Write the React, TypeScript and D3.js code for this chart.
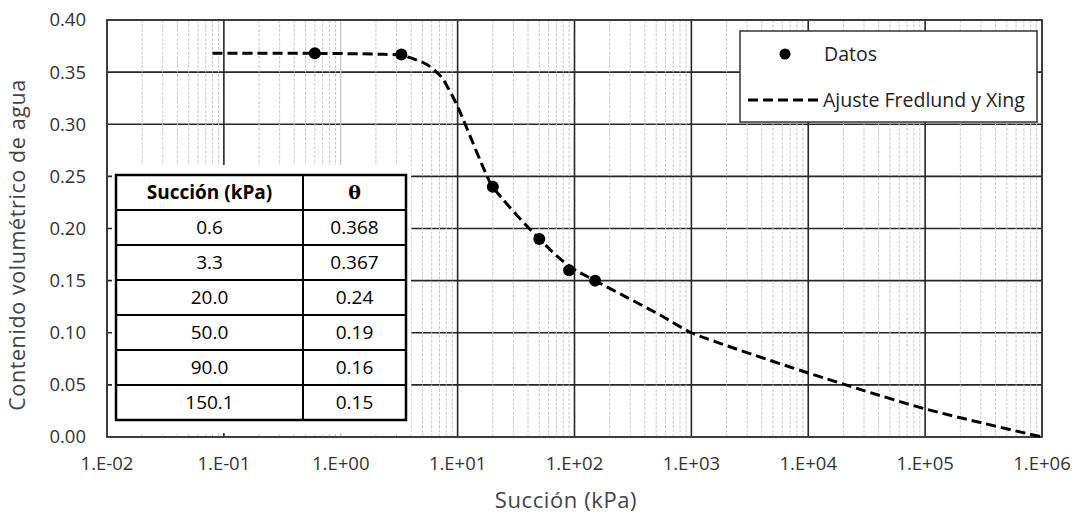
import React from "react";
import * as d3 from "d3";

const width = 1078;
const height = 521;
const margin = { top: 20, right: 36, bottom: 84, left: 107 };

// measured points (also shown in the table)
const suction = [0.6, 3.3, 20.0, 50.0, 90.0, 150.1];
const theta = [0.368, 0.367, 0.24, 0.19, 0.16, 0.15];

// Fredlund & Xing fit
const fitSuction = [0.08, 0.6, 2, 3.3, 4.6, 5.5, 6.6, 7.3, 8, 10, 11.6, 17.9, 20, 50, 90, 150, 280, 540, 1000, 1600, 3160, 10000, 21000, 30000, 100000, 320000, 1000000];
const fitTheta = [0.368, 0.368, 0.3672, 0.366, 0.361, 0.357, 0.35, 0.345, 0.338, 0.317, 0.3, 0.25, 0.24, 0.19, 0.164, 0.15, 0.134, 0.117, 0.1, 0.0915, 0.08, 0.0614, 0.05, 0.0445, 0.027, 0.013, 0];

const yTicks = [0, 0.05, 0.1, 0.15, 0.2, 0.25, 0.3, 0.35, 0.4];
const xExponents = [-2, -1, 0, 1, 2, 3, 4, 5, 6];

const tableHeader = ["Succión (kPa)", "θ"];

const FONT = "'Open Sans', 'Noto Sans', sans-serif";

function fmtExp(e: number) {
  const sign = e < 0 ? "-" : "+";
  return `1.E${sign}${String(Math.abs(e)).padStart(2, "0")}`;
}

export default function App() {
  const x = d3.scaleLog().domain([1e-2, 1e6]).range([margin.left, width - margin.right]);
  const y = d3.scaleLinear().domain([0, 0.4]).range([height - margin.bottom, margin.top]);
  const x0 = x.range()[0], x1 = x.range()[1];
  const y0 = y.range()[0], y1 = y.range()[1];

  const minors: number[] = [];
  xExponents.slice(0, -1).forEach((e) => {
    for (let m = 2; m <= 9; m++) minors.push(m * Math.pow(10, e));
  });

  const fit = fitSuction.map((s, i) => [s, fitTheta[i]] as [number, number]);
  const line = d3
    .line<[number, number]>()
    .x((d) => x(d[0]))
    .y((d) => y(d[1]))
    .curve(d3.curveCatmullRom.alpha(0.5));

  // table geometry
  const tLeft = 116, tTop = 175, rowH = 35, col1 = 187, col2 = 103;
  const rows = suction.map((s, i) => [s.toFixed(1), String(theta[i])]);

  // legend geometry
  const lg = { x: 740, y: 31, w: 297, h: 91 };

  return (
    <svg width={width} height={height} style={{ position: "absolute", left: 0, top: 0, background: "#fff" }}>
      {/* horizontal gridlines */}
      {yTicks.map((t) => (
        <line key={"h" + t} x1={x0} x2={x1} y1={y(t)} y2={y(t)} stroke="#262626" strokeWidth={1.6} />
      ))}
      {/* major verticals */}
      {xExponents.map((e) => (
        <line
          key={"v" + e}
          x1={x(Math.pow(10, e))}
          x2={x(Math.pow(10, e))}
          y1={y1}
          y2={y0}
          stroke={e === 0 ? "#c2c2c2" : "#262626"}
          strokeWidth={e === 0 ? 1.2 : 1.6}
        />
      ))}
      {/* minor verticals */}
      {minors.map((m) => (
        <line key={"m" + m} x1={x(m)} x2={x(m)} y1={y1} y2={y0} stroke="#c8c8c8" strokeWidth={1} strokeDasharray="3,1.5" />
      ))}
      {/* frame */}
      <rect x={x0} y={y1} width={x1 - x0} height={y0 - y1} fill="none" stroke="#3a3a3a" strokeWidth={1.8} />

      {/* white box under table */}
      <rect x={112} y={165} width={299} height={268} fill="#fff" />

      {/* fitted curve */}
      <path d={line(fit) || ""} fill="none" stroke="#000" strokeWidth={3} strokeDasharray="10,5" />
      {/* data points */}
      {suction.map((s, i) => (
        <circle key={"p" + i} cx={x(s)} cy={y(theta[i])} r={6} fill="#000" />
      ))}

      {/* y tick labels */}
      {yTicks.map((t) => (
        <text key={"yl" + t} x={x0 - 21} y={y(t)} dy="0.35em" textAnchor="end" fontFamily={FONT} fontSize={18.5} fill="#333">
          {t.toFixed(2)}
        </text>
      ))}
      {/* x tick labels */}
      {xExponents.map((e) => (
        <text key={"xl" + e} x={x(Math.pow(10, e))} y={470} textAnchor="middle" fontFamily={FONT} fontSize={18.5} fill="#333">
          {fmtExp(e)}
        </text>
      ))}
      {/* axis titles */}
      <text x={566} y={508} textAnchor="middle" fontFamily={FONT} fontSize={22} letterSpacing={0.6} fill="#444">
        Succión (kPa)
      </text>
      <text
        transform={`translate(25,245) rotate(-90)`}
        textAnchor="middle"
        fontFamily={FONT}
        fontSize={21.5}
        letterSpacing={0.6}
        fill="#444"
      >
        Contenido volumétrico de agua
      </text>

      {/* table */}
      <g>
        {[tableHeader, ...rows].map((r, i) => (
          <g key={"r" + i}>
            <text
              x={tLeft + col1 / 2}
              y={tTop + rowH * i + rowH / 2}
              dy="0.35em"
              textAnchor="middle"
              fontFamily={FONT}
              fontSize={19}
              fontWeight={i === 0 ? 700 : 400}
              fill="#000"
            >
              {r[0]}
            </text>
            <text
              x={tLeft + col1 + col2 / 2}
              y={tTop + rowH * i + rowH / 2}
              dy="0.35em"
              textAnchor="middle"
              fontFamily={i === 0 ? "'DejaVu Serif', serif" : FONT}
              fontSize={19}
              fontWeight={i === 0 ? 700 : 400}
              fill="#000"
            >
              {r[1]}
            </text>
          </g>
        ))}
        {d3.range(1, rows.length + 1).map((i) => (
          <line key={"tl" + i} x1={tLeft} x2={tLeft + col1 + col2} y1={tTop + rowH * i} y2={tTop + rowH * i} stroke="#000" strokeWidth={2} />
        ))}
        <line x1={tLeft + col1} x2={tLeft + col1} y1={tTop} y2={tTop + rowH * (rows.length + 1)} stroke="#000" strokeWidth={2} />
        <rect x={tLeft} y={tTop} width={col1 + col2} height={rowH * (rows.length + 1)} fill="none" stroke="#000" strokeWidth={2.5} />
      </g>

      {/* legend */}
      <rect x={lg.x} y={lg.y} width={lg.w} height={lg.h} fill="#fff" stroke="#333" strokeWidth={1.5} />
      <circle cx={785} cy={54} r={5.5} fill="#000" />
      <text x={824} y={54} dy="0.35em" fontFamily={FONT} fontSize={19.5} fill="#222">
        Datos
      </text>
      <line x1={748} x2={818} y1={100} y2={100} stroke="#000" strokeWidth={3} strokeDasharray="10,5" />
      <text x={823} y={100} dy="0.35em" fontFamily={FONT} fontSize={19.5} fill="#222">
        Ajuste Fredlund y Xing
      </text>
    </svg>
  );
}
